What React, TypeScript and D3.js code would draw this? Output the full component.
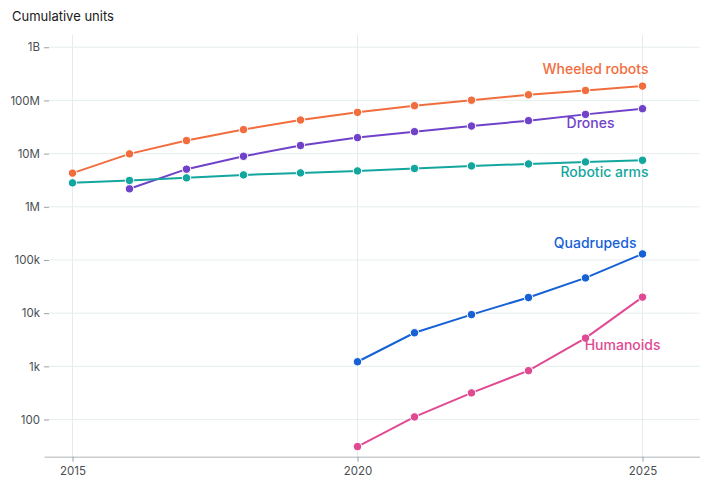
import React, { useEffect, useRef } from 'react'
import * as d3 from 'd3'

// years shared by the series; null = no data for that year
const years = [2015, 2016, 2017, 2018, 2019, 2020, 2021, 2022, 2023, 2024, 2025]

const wheeledRobots = [4.3e6, 9.9e6, 17.6e6, 28.3e6, 42.8e6, 59.7e6, 79.6e6, 101e6, 128e6, 154e6, 186e6]
const drones = [null, 2.18e6, 5.1e6, 8.9e6, 14.2e6, 20e6, 25.9e6, 33e6, 41.7e6, 54.7e6, 70e6]
const roboticArms = [2.82e6, 3.13e6, 3.5e6, 3.98e6, 4.34e6, 4.73e6, 5.25e6, 5.87e6, 6.4e6, 6.98e6, 7.5e6]
const quadrupeds = [null, null, null, null, null, 1.22e3, 4.28e3, 9.4e3, 19.7e3, 46e3, 130e3]
const humanoids = [null, null, null, null, null, 31, 112, 317, 830, 3.4e3, 20e3]

const yTicks = [100, 1e3, 1e4, 1e5, 1e6, 1e7, 1e8, 1e9]
const yTickLabels = ['100', '1k', '10k', '100k', '1M', '10M', '100M', '1B']
const xTicks = [2015, 2020, 2025]

const series = [
  { name: 'Wheeled robots', values: wheeledRobots, color: '#f26d3d', dx: 6, dy: -12, anchor: 'end' },
  { name: 'Drones', values: drones, color: '#6f42c9', dx: -28, dy: 19, anchor: 'end' },
  { name: 'Robotic arms', values: roboticArms, color: '#13a69e', dx: 6, dy: 17, anchor: 'end' },
  { name: 'Quadrupeds', values: quadrupeds, color: '#1661d6', dx: -6, dy: -6, anchor: 'end' },
  { name: 'Humanoids', values: humanoids, color: '#e04a93', dx: 18, dy: 53, anchor: 'end' }
]

const WIDTH = 712
const HEIGHT = 488

export default function App() {
  const svgRef = useRef<SVGSVGElement>(null)

  useEffect(() => {
    if (!svgRef.current) return
    const svg = d3.select(svgRef.current)
    svg.selectAll('*').remove()

    const left = 44
    const right = 699.5
    const top = 35
    const bottom = 456.7

    const x = d3.scaleLinear().domain([2014.5, 2026]).range([left, right])
    const y = d3.scaleLog().domain([20, 1.7e9]).range([bottom, top])

    const font = 'Inter, "Noto Sans", sans-serif'

    svg.append('text')
      .attr('x', 12)
      .attr('y', 21)
      .attr('font-family', font)
      .attr('font-size', 13)
      .attr('fill', '#1a1a1a')
      .text('Cumulative units')

    // horizontal grid
    const grid = svg.append('g')
    grid.selectAll('line.h')
      .data(yTicks)
      .join('line')
      .attr('class', 'h')
      .attr('x1', left + 5)
      .attr('x2', right)
      .attr('y1', d => y(d))
      .attr('y2', d => y(d))
      .attr('stroke', '#e6eeee')
      .attr('stroke-width', 1)

    // vertical grid
    grid.selectAll('line.v')
      .data(xTicks)
      .join('line')
      .attr('class', 'v')
      .attr('x1', d => x(d))
      .attr('x2', d => x(d))
      .attr('y1', top)
      .attr('y2', bottom)
      .attr('stroke', '#e3ecee')
      .attr('stroke-width', 1)

    // y axis
    const yAxis = svg.append('g')
      .attr('transform', `translate(${left + 5},0)`)
      .call(
        d3.axisLeft(y)
          .tickValues(yTicks)
          .tickSize(5)
          .tickPadding(4)
          .tickFormat((_, i) => yTickLabels[i])
      )
    yAxis.select('.domain').remove()
    yAxis.selectAll('line').attr('stroke', '#9aa0a4')
    yAxis.selectAll('text')
      .attr('font-family', font)
      .attr('font-size', 11.5)
      .attr('fill', '#4a4f54')

    // x axis
    const xAxis = svg.append('g')
      .attr('transform', `translate(0,${bottom})`)
      .call(
        d3.axisBottom(x)
          .tickValues(xTicks)
          .tickSize(5)
          .tickPadding(5)
          .tickFormat(d3.format('d'))
          .tickSizeOuter(0)
      )
    xAxis.select('.domain')
      .attr('stroke', '#c9cdd0')
      .attr('stroke-width', 1.6)
    xAxis.selectAll('line').attr('stroke', '#9aa0a4')
    xAxis.selectAll('text')
      .attr('font-family', font)
      .attr('font-size', 11.5)
      .attr('fill', '#4a4f54')

    const line = d3.line<[number, number | null]>()
      .defined(d => d[1] != null)
      .x(d => x(d[0]))
      .y(d => y(d[1] as number))

    series.forEach(s => {
      const pts = years.map((yr, i) => [yr, s.values[i]] as [number, number | null])
      const g = svg.append('g')
      g.append('path')
        .datum(pts)
        .attr('d', line)
        .attr('fill', 'none')
        .attr('stroke', s.color)
        .attr('stroke-width', 2)

      g.selectAll('circle')
        .data(pts.filter(d => d[1] != null))
        .join('circle')
        .attr('cx', d => x(d[0]))
        .attr('cy', d => y(d[1] as number))
        .attr('r', 4.2)
        .attr('fill', s.color)
        .attr('stroke', '#fff')
        .attr('stroke-width', 1)

      const last = pts[pts.length - 1]
      g.append('text')
        .attr('x', x(last[0]) + s.dx)
        .attr('y', y(last[1] as number) + s.dy)
        .attr('text-anchor', s.anchor)
        .attr('font-family', font)
        .attr('font-size', 14)
        .attr('font-weight', 500)
        .attr('fill', s.color)
        .text(s.name)
    })
  }, [])

  return (
    <svg
      ref={svgRef}
      width={WIDTH}
      height={HEIGHT}
      style={{ position: 'absolute', left: 0, top: 0, background: '#fff' }}
    />
  )
}
